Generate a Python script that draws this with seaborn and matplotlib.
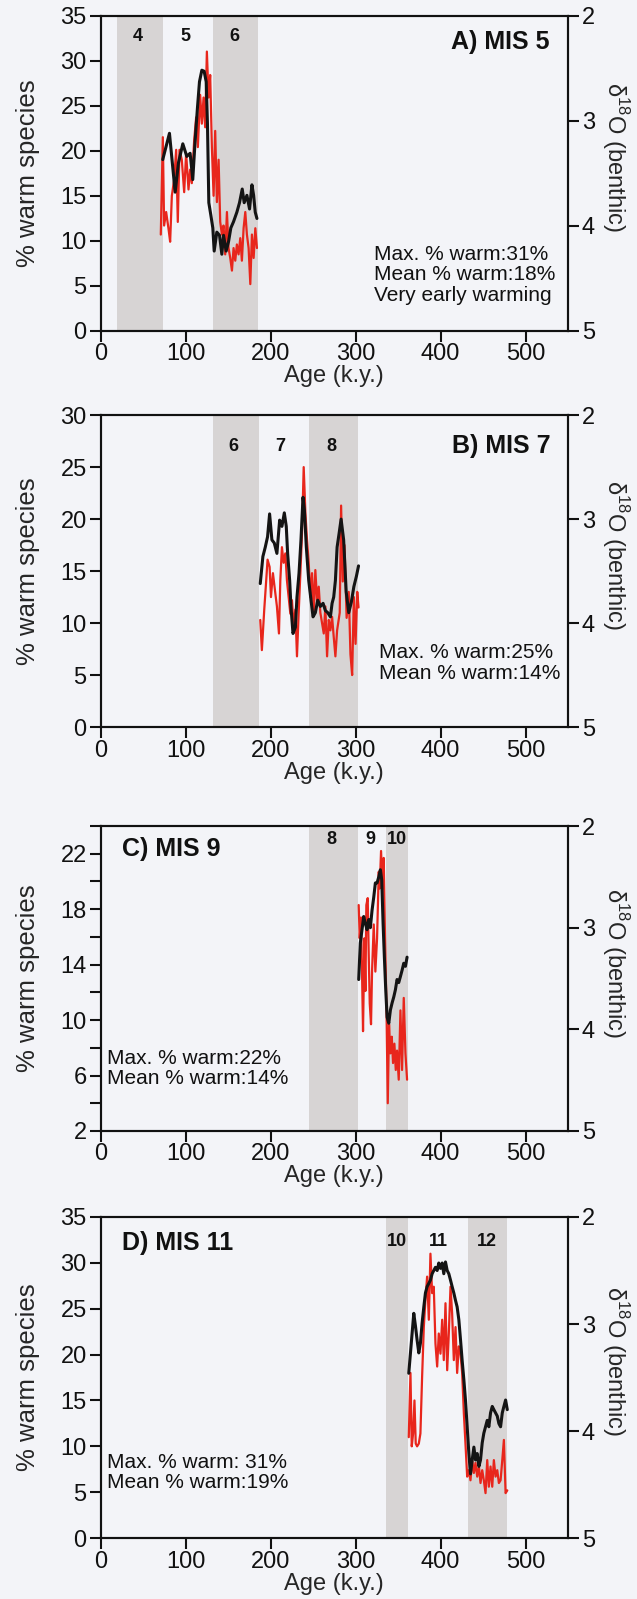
import matplotlib
matplotlib.use("Agg")
import matplotlib.pyplot as plt
import seaborn as sns

sns.set_theme(style="ticks")
plt.rcParams["font.family"] = ["Liberation Sans", "DejaVu Sans"]
plt.rcParams["mathtext.fontset"] = "custom"
plt.rcParams["mathtext.rm"] = "Liberation Sans"

BG = "#f3f4f8"
BAND = "#d7d4d4"
RED = "#e8261c"
BLACK = "#141414"

# ---------------- Panel A: MIS 5 ----------------
a_warm_age = [70.9, 73.3, 74.8, 77.2, 79.9, 81.9, 83.9, 86.6, 89.0, 90.9, 92.9, 95.6,
              98.4, 100.7, 103.5, 105.4, 107.4, 110.2, 112.5, 114.5, 117.2, 119.2, 121.2,
              123.1, 125.1, 127.1, 129.0, 131.0, 133.0, 134.9, 136.9, 138.9, 140.8, 142.8,
              144.7, 146.7, 148.7, 150.6, 152.6, 154.6, 156.5, 158.5, 160.4, 162.4, 164.4,
              166.3, 168.3, 170.3, 172.2, 174.2, 176.2, 178.1, 180.1, 182.1, 184.0]
a_warm_pct = [10.7, 21.5, 11.7, 13.2, 11.4, 9.9, 15.0, 16.8, 20.1, 12.1, 20.1, 19.0,
              15.4, 19.7, 15.7, 17.9, 16.4, 21.2, 23.7, 20.4, 26.2, 23.0, 25.9, 22.6,
              31.0, 25.9, 28.4, 20.4, 15.0, 22.2, 14.3, 19.0, 12.1, 10.7, 11.7, 8.5,
              13.2, 9.2, 8.1, 6.7, 9.2, 7.8, 9.6, 8.5, 10.3, 7.8, 11.4, 13.2, 10.7,
              9.2, 5.2, 10.7, 8.1, 11.4, 9.2]
a_d18o_age = [73.2, 81.1, 87.8, 91.7, 96.8, 101.5, 105.4, 108.5, 111.3, 114.0, 116.4,
              119.2, 121.9, 124.3, 125.8, 127.4, 129.8, 132.1, 133.7, 136.8, 140.0, 142.7,
              144.7, 147.8, 150.6, 153.3, 156.5, 160.4, 163.5, 166.7, 169.0, 172.2, 175.3,
              178.1, 180.1, 182.0, 184.0]
a_d18o_val = [3.37, 3.12, 3.68, 3.40, 3.22, 3.34, 3.31, 3.56, 3.19, 2.88, 2.63, 2.52,
              2.53, 2.63, 3.03, 3.78, 3.90, 4.02, 4.24, 4.06, 4.09, 4.27, 4.09, 4.24,
              4.15, 4.02, 3.96, 3.87, 3.78, 3.65, 3.78, 3.71, 3.84, 3.61, 3.71, 3.87, 3.93]
a_bands = [(19, 74), (132, 185)]
a_band_labels = [(44, "4"), (100, "5"), (157, "6")]

# ---------------- Panel B: MIS 7 ----------------
b_warm_age = [187.9, 189.8, 192.6, 194.9, 196.5, 198.9, 200.5, 202.8, 204.7, 207.5,
              209.9, 211.5, 213.4, 215.4, 217.4, 219.3, 221.3, 223.3, 225.2, 227.2,
              229.2, 231.1, 233.1, 235.1, 237.0, 239.0, 241.0, 242.9, 244.9, 246.8,
              248.8, 250.8, 252.7, 254.7, 256.7, 258.6, 260.6, 262.6, 264.5, 266.5,
              268.5, 270.4, 272.4, 274.3, 276.3, 278.3, 281.4, 283.0, 285.0, 287.0,
              289.5, 292.0, 294.0, 296.0, 298.0, 300.0, 302.0, 303.5]
b_warm_pct = [10.3, 7.4, 11.3, 14.1, 16.1, 15.4, 12.5, 14.8, 13.5, 11.6, 9.0, 14.1,
              17.3, 15.8, 16.7, 14.1, 12.5, 10.9, 12.2, 9.6, 11.3, 6.8, 11.0, 14.8,
              18.6, 25.0, 20.6, 18.0, 15.8, 12.5, 14.8, 11.0, 15.1, 12.2, 13.5, 11.0,
              10.0, 9.0, 11.6, 6.8, 10.3, 9.3, 10.6, 8.7, 6.8, 9.3, 11.0, 21.3, 14.0,
              17.5, 10.5, 13.0, 7.0, 5.0, 12.5, 8.0, 13.0, 11.5]
b_d18o_age = [187.9, 191.0, 193.8, 196.5, 198.9, 201.6, 204.4, 207.5, 210.7, 213.4,
              216.2, 218.5, 220.1, 222.5, 224.0, 226.4, 229.2, 231.1, 233.5, 235.8,
              238.2, 239.8, 242.1, 244.9, 247.6, 250.0, 252.7, 255.5, 258.6, 261.8,
              264.5, 267.3, 270.4, 272.4, 274.3, 276.3, 278.3, 280.6, 283.0, 286.0,
              289.0, 292.0, 295.0, 298.0, 301.0, 303.5]
b_d18o_val = [3.62, 3.36, 3.27, 3.17, 2.95, 3.20, 3.23, 3.33, 3.01, 3.07, 2.94, 3.07,
              3.33, 3.59, 3.84, 4.10, 4.04, 3.75, 3.52, 3.20, 2.79, 2.91, 3.27, 3.59,
              3.78, 3.94, 3.90, 3.78, 3.84, 3.81, 3.88, 3.90, 3.94, 3.81, 3.75, 3.59,
              3.27, 3.14, 3.00, 3.20, 3.70, 3.90, 3.80, 3.65, 3.55, 3.45]
b_bands = [(132, 186), (245, 303)]
b_band_labels = [(156, "6"), (212, "7"), (272, "8")]

# ---------------- Panel C: MIS 9 ----------------
c_warm_age = [303.7, 304.9, 306.4, 307.6, 308.8, 310.4, 311.6, 312.7, 314.3, 315.5,
              316.7, 318.2, 319.4, 321.4, 323.3, 325.3, 327.3, 328.4, 330.0, 331.6,
              333.1, 334.7, 336.3, 337.9, 339.4, 341.0, 342.6, 344.1, 345.7, 347.3,
              348.8, 350.8, 352.8, 354.7, 356.7, 358.7, 360.6]
c_warm_pct = [18.3, 15.9, 17.4, 13.5, 9.2, 15.9, 12.1, 18.3, 18.8, 14.7, 11.2, 9.7,
              13.5, 16.9, 13.5, 15.9, 20.7, 19.5, 22.2, 19.5, 21.7, 15.9, 11.2, 4.0,
              9.7, 7.6, 8.8, 6.9, 8.3, 6.4, 7.8, 5.7, 10.7, 6.4, 11.6, 7.6, 5.7]
c_d18o_age = [303.7, 305.6, 307.6, 309.6, 311.6, 313.5, 315.5, 317.4, 319.4, 321.4,
              323.3, 325.3, 327.3, 329.2, 330.8, 332.4, 333.9, 335.5, 337.1, 339.1,
              341.0, 343.0, 345.0, 346.9, 348.8, 350.8, 352.8, 354.7, 356.7, 358.7, 360.6]
c_d18o_val = [3.51, 3.15, 3.02, 2.89, 2.96, 3.02, 2.92, 3.00, 2.83, 2.70, 2.56, 2.56,
              2.50, 2.43, 2.53, 2.96, 3.29, 3.61, 3.88, 3.94, 3.81, 3.74, 3.68, 3.61,
              3.51, 3.54, 3.48, 3.42, 3.35, 3.38, 3.29]
c_bands = [(245, 303), (336, 362)]
c_band_labels = [(272, "8"), (318, "9"), (349, "10")]

# ---------------- Panel D: MIS 11 ----------------
d_warm_age = [362.6, 364.6, 366.1, 367.7, 369.3, 370.8, 372.4, 374.4, 376.3, 378.3,
              380.3, 382.2, 384.2, 386.2, 388.1, 390.1, 392.0, 394.0, 396.0, 397.9,
              399.9, 401.9, 403.8, 405.8, 407.8, 409.7, 411.7, 413.6, 415.6, 417.6,
              419.5, 421.5, 423.5, 425.4, 427.4, 429.3, 431.3, 433.3, 435.2, 437.2,
              439.2, 441.1, 443.1, 445.1, 447.0, 449.0, 450.9, 452.9, 454.9, 456.8,
              458.8, 460.8, 462.7, 464.7, 466.7, 468.6, 470.6, 472.6, 474.5, 476.5, 478.5]
d_warm_pct = [11.0, 18.0, 10.0, 11.4, 15.0, 10.3, 10.0, 10.3, 11.4, 17.6, 23.0, 26.0,
              28.5, 23.8, 31.0, 26.7, 27.4, 21.2, 18.7, 22.3, 20.1, 23.8, 19.4, 25.6,
              18.3, 22.3, 27.4, 24.5, 19.4, 23.0, 18.0, 20.9, 20.1, 18.0, 13.6, 10.3,
              6.7, 7.4, 6.3, 8.5, 7.1, 8.2, 6.7, 7.8, 6.0, 7.4, 6.3, 4.9, 8.5, 5.6,
              7.8, 5.6, 8.5, 6.7, 7.4, 6.0, 6.3, 8.5, 10.7, 4.9, 5.2]
d_d18o_age = [362.6, 364.6, 366.5, 368.5, 370.5, 372.4, 374.4, 376.3, 378.3, 380.3,
              382.2, 384.2, 386.2, 388.1, 390.1, 392.0, 394.0, 396.0, 397.9, 399.9,
              401.9, 403.8, 405.8, 407.8, 409.7, 411.7, 413.6, 415.6, 417.6, 419.5,
              421.5, 423.5, 425.4, 427.4, 429.3, 431.3, 433.3, 435.2, 437.2, 439.2,
              441.1, 443.1, 445.1, 447.0, 449.0, 450.9, 452.9, 454.9, 456.8, 458.8,
              460.8, 462.7, 464.7, 466.7, 468.6, 470.6, 472.6, 474.5, 476.5, 478.5]
d_d18o_val = [3.46, 3.27, 3.09, 2.90, 3.02, 3.15, 3.27, 3.18, 2.99, 2.84, 2.71, 2.65,
              2.62, 2.59, 2.53, 2.50, 2.47, 2.50, 2.43, 2.48, 2.43, 2.53, 2.42, 2.50,
              2.53, 2.59, 2.65, 2.71, 2.78, 2.84, 2.96, 3.15, 3.34, 3.52, 3.71, 3.96,
              4.21, 4.40, 4.27, 4.15, 4.27, 4.21, 4.33, 4.27, 4.11, 4.02, 3.96, 3.90,
              3.96, 3.83, 3.77, 3.80, 3.83, 3.86, 3.93, 3.96, 3.83, 3.77, 3.71, 3.80]
d_bands = [(336, 362), (432, 478)]
d_band_labels = [(349, "10"), (397, "11"), (455, "12")]

# y-axis ticks / labels for each panel
a_yticks = [0, 5, 10, 15, 20, 25, 30, 35]
b_yticks = [0, 5, 10, 15, 20, 25, 30]
c_yticks = [2, 4, 6, 8, 10, 12, 14, 16, 18, 20, 22, 24]
c_ylabels = ["2", "", "6", "", "10", "", "14", "", "18", "", "22", ""]
d_yticks = [0, 5, 10, 15, 20, 25, 30, 35]

x_ticks = [0, 100, 200, 300, 400, 500]
d18o_ticks = [2, 3, 4, 5]

panels = [
    dict(rect=[0.1578, 0.793, 0.734, 0.1973], ylim=(0, 35), yticks=a_yticks,
         ylabels=[str(t) for t in a_yticks],
         warm=(a_warm_age, a_warm_pct), iso=(a_d18o_age, a_d18o_val),
         bands=a_bands, band_labels=a_band_labels, band_y=0.935,
         title="A) MIS 5", title_xy=(0.96, 0.915), title_ha="right",
         note="Max. % warm:31%\nMean % warm:18%\nVery early warming",
         note_xy=(0.585, 0.178)),
    dict(rect=[0.1578, 0.5453, 0.734, 0.1951], ylim=(0, 30), yticks=b_yticks,
         ylabels=[str(t) for t in b_yticks],
         warm=(b_warm_age, b_warm_pct), iso=(b_d18o_age, b_d18o_val),
         bands=b_bands, band_labels=b_band_labels, band_y=0.9,
         title="B) MIS 7", title_xy=(0.963, 0.9), title_ha="right",
         note="Max. % warm:25%\nMean % warm:14%", note_xy=(0.596, 0.205)),
    dict(rect=[0.1578, 0.2927, 0.734, 0.1907], ylim=(2, 24), yticks=c_yticks,
         ylabels=c_ylabels,
         warm=(c_warm_age, c_warm_pct), iso=(c_d18o_age, c_d18o_val),
         bands=c_bands, band_labels=c_band_labels, band_y=0.955,
         title="C) MIS 9", title_xy=(0.045, 0.925), title_ha="left",
         note="Max. % warm:22%\nMean % warm:14%", note_xy=(0.013, 0.205)),
    dict(rect=[0.1578, 0.0381, 0.734, 0.2008], ylim=(0, 35), yticks=d_yticks,
         ylabels=[str(t) for t in d_yticks],
         warm=(d_warm_age, d_warm_pct), iso=(d_d18o_age, d_d18o_val),
         bands=d_bands, band_labels=d_band_labels, band_y=0.925,
         title="D) MIS 11", title_xy=(0.045, 0.92), title_ha="left",
         note="Max. % warm: 31%\nMean % warm:19%", note_xy=(0.013, 0.205)),
]

fig = plt.figure(figsize=(6.37, 15.99), dpi=100, facecolor=BG)

TICK_FS = 17
LABEL_FS = 17

for p in panels:
    ax = fig.add_axes(p["rect"])
    ax.set_facecolor(BG)
    for x0, x1 in p["bands"]:
        ax.axvspan(x0, x1, color=BAND, lw=0, zorder=0)
    sns.lineplot(x=p["warm"][0], y=p["warm"][1], ax=ax, color=RED, lw=1.6,
                 estimator=None, sort=False, zorder=3)
    ax.set_xlim(0, 550)
    ax.set_ylim(*p["ylim"])
    ax.set_yticks(p["yticks"])
    ax.set_yticklabels(p["ylabels"])
    ax.set_xticks(x_ticks)
    ax.set_xticklabels([str(t) for t in x_ticks])
    ax.set_xlabel("Age (k.y.)", fontsize=LABEL_FS, labelpad=0)
    ax.set_ylabel("% warm species", fontsize=18.5, labelpad=15)
    ax.tick_params(direction="out", length=8, width=1.5, labelsize=TICK_FS,
                   colors="#111111")
    ax.tick_params(axis="x", pad=1)
    ax.tick_params(axis="y", pad=2)

    for x, s in p["band_labels"]:
        ax.text(x, p["band_y"], s, transform=ax.get_xaxis_transform(),
                ha="center", va="center", fontsize=13, fontweight="bold",
                color="#111111", zorder=5)
    ax.text(*p["title_xy"], p["title"], transform=ax.transAxes, ha=p["title_ha"],
            va="center", fontsize=18, fontweight="bold", color="#111111", zorder=5)
    ax.text(*p["note_xy"], p["note"], transform=ax.transAxes, ha="left",
            va="center", fontsize=15, linespacing=1.1, color="#111111", zorder=5)

    ax2 = ax.twinx()
    sns.lineplot(x=p["iso"][0], y=p["iso"][1], ax=ax2, color=BLACK, lw=2.2,
                 estimator=None, sort=False, zorder=4)
    ax2.set_ylim(5, 2)
    ax2.set_yticks(d18o_ticks)
    ax2.set_yticklabels([str(t) for t in d18o_ticks])
    ax2.set_ylabel("δ$^{18}$O (benthic)", rotation=270, fontsize=LABEL_FS,
                   labelpad=26, y=0.55)
    ax2.tick_params(direction="out", length=8, width=1.5, labelsize=TICK_FS,
                    colors="#111111", pad=2)

    for a in (ax, ax2):
        for sp in a.spines.values():
            sp.set_visible(True)
            sp.set_linewidth(1.5)
            sp.set_color("#111111")

fig.savefig("out.png", dpi=100, facecolor=BG)
